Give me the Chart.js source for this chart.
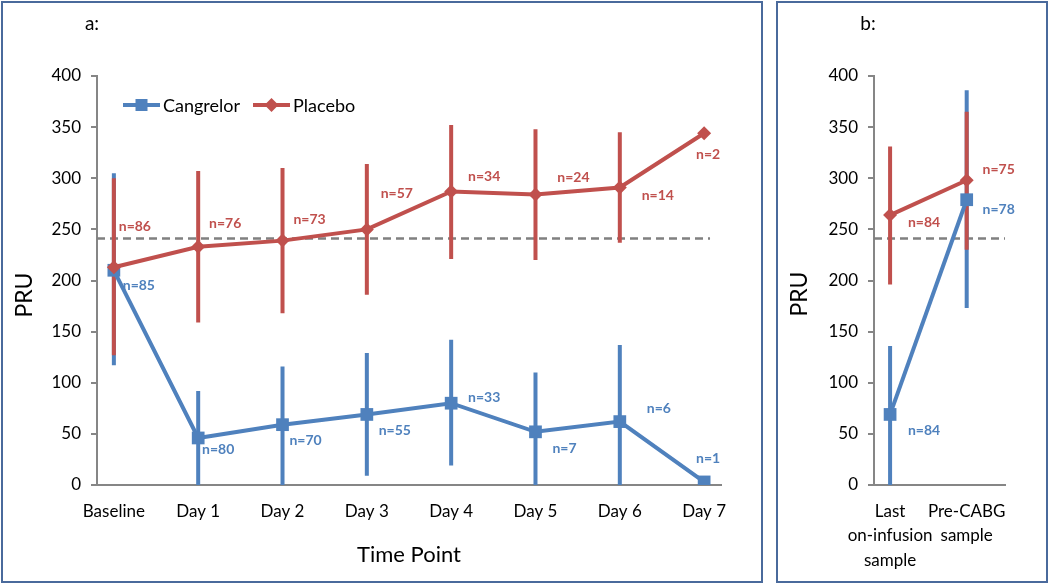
<!DOCTYPE html>
<html>
<head>
<meta charset="utf-8">
<script src="https://cdn.jsdelivr.net/npm/chart.js@4.4.0/dist/chart.umd.min.js"></script>
<style>
  body { margin: 0; background: #fff; width: 1050px; height: 585px; position: relative; overflow: hidden; }
  .panel { position: absolute; top: 1px; height: 578px; border: 2px solid #4a6a9c; background: #fff; }
  #pa { left: 1px; width: 758px; }
  #pb { left: 776px; width: 268px; }
  canvas { display: block; }
</style>
</head>
<body>
<div class="panel" id="pa"><canvas id="chartA" width="758" height="578"></canvas></div>
<div class="panel" id="pb"><canvas id="chartB" width="268" height="578"></canvas></div>
<script>
// panel a: daily time points
const TIME_POINTS = ['Baseline', 'Day 1', 'Day 2', 'Day 3', 'Day 4', 'Day 5', 'Day 6', 'Day 7'];
const CANG_MEAN = [210, 46, 59, 69, 80, 52, 62, 3];
const CANG_LOW  = [117, 0, 0, 9, 19, 0, 0, null];
const CANG_HIGH = [305, 92, 116, 129, 142, 110, 137, null];
const CANG_N    = [85, 80, 70, 55, 33, 7, 6, 1];
const PLAC_MEAN = [213, 233, 239, 250, 287, 284, 291, 344];
const PLAC_LOW  = [127, 159, 168, 186, 221, 220, 237, null];
const PLAC_HIGH = [300, 307, 310, 314, 352, 348, 345, null];
const PLAC_N    = [86, 76, 73, 57, 34, 24, 14, 2];

// panel b: samples around CABG
const SAMPLES = [['Last', 'on-infusion', 'sample'], ['Pre-CABG', 'sample']];
const CANG_B_MEAN = [69, 279];
const CANG_B_LOW  = [0, 173];
const CANG_B_HIGH = [136, 386];
const CANG_B_N    = [84, 78];
const PLAC_B_MEAN = [264, 298];
const PLAC_B_LOW  = [196, 230];
const PLAC_B_HIGH = [331, 365];
const PLAC_B_N    = [84, 75];

const PRU_MIN = 0;
const PRU_MAX = 400;
const PRU_STEP = 50;
const THRESHOLD = 241;

const BLUE = '#4f81bd';
const RED = '#c0504d';
const AXIS = '#868686';
const FONT = 'Lato, sans-serif';

// turn lo/hi arrays into one broken line (null between bars)
const errorBars = (low, high) => low.flatMap((lo, i) =>
  lo == null ? [] : [{ x: i, y: lo }, { x: i, y: high[i] }, { x: i, y: null }]);

const extras = {
  id: 'extras',
  afterDatasetsDraw(chart, args, o) {
    const ctx = chart.ctx;
    ctx.save();
    ctx.textAlign = 'center';
    ctx.textBaseline = 'middle';
    ctx.font = 'bold 14px ' + FONT;
    o.nLabels.forEach((s) => {
      const meta = chart.getDatasetMeta(s.dataset);
      ctx.fillStyle = s.color;
      s.values.forEach((n, i) => {
        const p = meta.data[i];
        ctx.fillText('n=' + n, p.x + s.offsets[i][0], p.y + s.offsets[i][1]);
      });
    });

    ctx.fillStyle = '#000';
    ctx.font = '19px ' + FONT;
    ctx.fillText(o.letter, o.letterAt[0], o.letterAt[1]);

    ctx.save();
    ctx.translate(o.pruAt[0], o.pruAt[1]);
    ctx.rotate(-Math.PI / 2);
    ctx.font = '23px ' + FONT;
    ctx.fillText('PRU', 0, 0);
    ctx.restore();

    if (o.legend) {
      const y = o.legend.y;
      ctx.lineWidth = 4;
      ctx.textAlign = 'left';
      ctx.font = '18px ' + FONT;
      o.legend.items.forEach((it) => {
        ctx.strokeStyle = it.color;
        ctx.fillStyle = it.color;
        ctx.beginPath();
        ctx.moveTo(it.x, y);
        ctx.lineTo(it.x + 37, y);
        ctx.stroke();
        const cx = it.x + 18.5;
        ctx.beginPath();
        if (it.shape === 'rect') {
          ctx.rect(cx - 6, y - 6, 12, 12);
        } else {
          ctx.moveTo(cx - 7, y); ctx.lineTo(cx, y - 7); ctx.lineTo(cx + 7, y); ctx.lineTo(cx, y + 7);
          ctx.closePath();
        }
        ctx.fill();
        ctx.fillStyle = '#000';
        ctx.fillText(it.label, it.x + 40, y + 1);
      });
    }
    ctx.restore();
  }
};

function makePanel(id, cfg) {
  const lineOf = (data, color, style, radius, order) => ({
    type: 'line',
    data: data.map((v, i) => ({ x: i, y: v })),
    borderColor: color,
    backgroundColor: color,
    borderWidth: 4,
    pointStyle: style,
    pointRadius: radius,
    pointHoverRadius: radius,
    pointBorderWidth: 0,
    tension: 0,
    order: order,
  });
  const barsOf = (low, high, color, order) => ({
    type: 'line',
    data: errorBars(low, high),
    borderColor: color,
    borderWidth: 4,
    pointRadius: 0,
    spanGaps: false,
    order: order,
  });

  return new Chart(document.getElementById(id), {
    type: 'line',
    data: {
      datasets: [
        {
          data: [{ x: cfg.xMin, y: THRESHOLD }, { x: cfg.dashEnd, y: THRESHOLD }],
          borderColor: '#808080',
          borderWidth: 2.5,
          borderDash: [8, 5],
          pointRadius: 0,
          clip: false,
          order: 6,
        },
        barsOf(cfg.cLow, cfg.cHigh, BLUE, 5),
        barsOf(cfg.pLow, cfg.pHigh, RED, 4),
        lineOf(cfg.cMean, BLUE, 'rect', 9, 2),
        lineOf(cfg.pMean, RED, 'rectRot', 7, 1),
      ],
    },
    options: {
      responsive: false,
      animation: false,
      events: [],
      layout: { padding: { top: 73, right: cfg.padRight, left: 0, bottom: 0 } },
      plugins: {
        legend: { display: false },
        tooltip: { enabled: false },
        extras: {
          letter: cfg.letter,
          letterAt: cfg.letterAt,
          pruAt: cfg.pruAt,
          legend: cfg.legend,
          nLabels: [
            { dataset: 3, values: cfg.cN, offsets: cfg.cOff, color: BLUE },
            { dataset: 4, values: cfg.pN, offsets: cfg.pOff, color: RED },
          ],
        },
      },
      scales: {
        x: {
          type: 'linear',
          min: cfg.xMin,
          max: cfg.xMax,
          afterBuildTicks: (axis) => { axis.ticks = cfg.cats.map((_, i) => ({ value: i })); },
          afterFit: (axis) => {
            axis.height = 96;
            axis.paddingLeft = 0; axis.paddingRight = 0;
          },
          grid: { display: false, drawTicks: false },
          border: { display: true, color: AXIS, width: 2 },
          ticks: {
            autoSkip: false,
            maxRotation: 0,
            padding: 14,
            color: '#000',
            font: { family: FONT, size: 17, lineHeight: 1.44 },
            callback: (v) => cfg.cats[v],
          },
          title: {
            display: !!cfg.xTitle,
            text: cfg.xTitle,
            color: '#000',
            font: { family: FONT, size: 22, lineHeight: 1.2 },
            padding: { top: 0, bottom: 13 },
          },
        },
        y: {
          min: PRU_MIN,
          max: PRU_MAX,
          afterFit: (axis) => {
            axis.width = cfg.yWidth;
            axis.paddingTop = 0; axis.paddingBottom = 0;
          },
          grid: { display: true, drawOnChartArea: false, drawTicks: true, tickLength: 6, color: AXIS, lineWidth: 2 },
          border: { display: true, color: AXIS, width: 2 },
          ticks: {
            stepSize: PRU_STEP,
            padding: 10,
            color: '#000',
            font: { family: FONT, size: 17 },
          },
        },
      },
    },
    plugins: [extras],
  });
}

makePanel('chartA', {
  cats: TIME_POINTS,
  cMean: CANG_MEAN, cLow: CANG_LOW, cHigh: CANG_HIGH, cN: CANG_N,
  pMean: PLAC_MEAN, pLow: PLAC_LOW, pHigh: PLAC_HIGH, pN: PLAC_N,
  xMin: -0.2, xMax: 7.2, dashEnd: 7.07,
  padRight: 40, yWidth: 94,
  xTitle: 'Time Point',
  letter: 'a:', letterAt: [89, 21], pruAt: [22, 292],
  cOff: [[25, 15], [20, 12], [23, 16], [28, 16], [33, -6], [29, 17], [39, -13], [4, -23]],
  pOff: [[21, -41], [27, -23], [27, -21], [30, -36], [33, -15], [38, -17], [38, 8], [4, 21]],
  legend: {
    y: 102,
    items: [
      { label: 'Cangrelor', color: BLUE, shape: 'rect', x: 120 },
      { label: 'Placebo', color: RED, shape: 'diamond', x: 250 },
    ],
  },
});

makePanel('chartB', {
  cats: SAMPLES,
  cMean: CANG_B_MEAN, cLow: CANG_B_LOW, cHigh: CANG_B_HIGH, cN: CANG_B_N,
  pMean: PLAC_B_MEAN, pLow: PLAC_B_LOW, pHigh: PLAC_B_HIGH, pN: PLAC_B_N,
  xMin: -0.21, xMax: 1.5, dashEnd: 1.5,
  padRight: 41, yWidth: 96,
  xTitle: '',
  letter: 'b:', letterAt: [90, 21], pruAt: [22, 291],
  cOff: [[34, 16], [32, 10]],
  pOff: [[34, 7], [32, -11]],
  legend: null,
});
</script>
</body>
</html>
